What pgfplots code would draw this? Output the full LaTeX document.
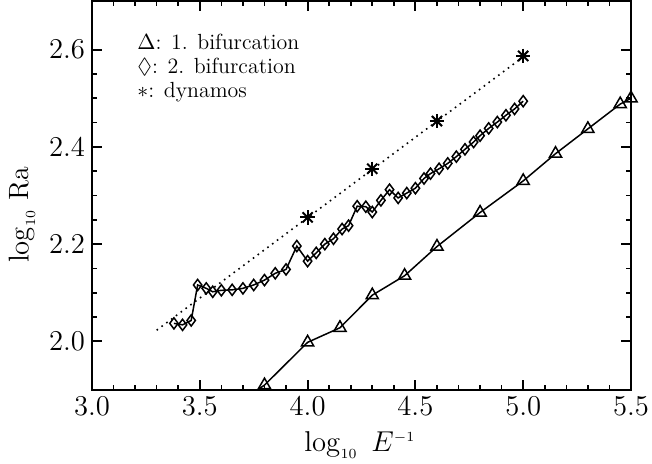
\documentclass[border=0pt]{standalone}
\usepackage{pgfplots}
\pgfplotsset{compat=1.18}
\usepackage{amssymb}
\begin{document}
\begin{tikzpicture}
\useasboundingbox (-46bp,-37bp) rectangle (280bp,195bp);
\begin{axis}[
  at={(0,0)}, anchor=south west,
  scale only axis, width=269.5bp, height=194.5bp,
  xmin=3, xmax=5.5, ymin=1.9, ymax=2.7,
  xtick={3.0,3.5,4.0,4.5,5.0,5.5}, ytick={2.0,2.2,2.4,2.6},
  minor x tick num=4, minor y tick num=3,
  tick align=inside, major tick length=5bp, minor tick length=2.6bp,
  major tick style={line width=1bp, black},
  minor tick style={line width=0.8bp, black},
  axis line style={line width=1.3bp},
  xticklabel style={/pgf/number format/.cd, fixed, fixed zerofill, precision=1},
  yticklabel style={/pgf/number format/.cd, fixed, fixed zerofill, precision=1},
  tick label style={font=\fontsize{14}{16}\selectfont},
  label style={font=\fontsize{14}{16}\selectfont},
  xlabel={$\log_{\scriptscriptstyle 10}\ E^{\scriptscriptstyle -1}$},
  ylabel={$\log_{\scriptscriptstyle 10}$ Ra},
  xlabel style={at={(axis description cs:0.497,-0.141)}, anchor=center},
  ylabel style={at={(axis description cs:-0.13,0.45)}, anchor=center},
]
% 1. bifurcation (triangles)
\addplot[black, line width=0.75bp, forget plot] coordinates {(3.6,1.85) (3.8,1.91)};
\addplot[black, line width=0.75bp, mark=triangle, mark size=3.5bp,
  mark options={solid, fill=white, line width=0.75bp}] coordinates {
(3.80,1.910) (4.00,1.998) (4.15,2.028) (4.30,2.095) (4.45,2.135)
(4.60,2.195) (4.80,2.265) (5.00,2.330) (5.15,2.386) (5.30,2.437)
(5.45,2.488) (5.50,2.500)
};
% fit line through dynamos
\addplot[black, line width=0.8bp, dash pattern=on 0.8bp off 2.2bp] coordinates {(3.30,2.023) (5.00,2.585)};
% 2. bifurcation (diamonds)
\addplot[black, line width=0.75bp, mark=diamond, mark size=2.8bp,
  mark options={solid, fill=white, line width=0.75bp}] coordinates {
(3.38,2.037) (3.42,2.034) (3.46,2.043) (3.49,2.116) (3.53,2.109)
(3.56,2.102) (3.60,2.105) (3.65,2.106) (3.70,2.109) (3.75,2.116)
(3.80,2.126) (3.85,2.140) (3.90,2.148) (3.95,2.196) (4.00,2.165)
(4.04,2.182) (4.08,2.200) (4.12,2.211) (4.16,2.231) (4.19,2.238)
(4.23,2.278) (4.27,2.277) (4.30,2.266) (4.34,2.290) (4.38,2.312)
(4.42,2.295) (4.46,2.305) (4.50,2.315) (4.54,2.335) (4.57,2.345)
(4.61,2.355) (4.65,2.366) (4.69,2.380) (4.73,2.395) (4.77,2.410)
(4.80,2.423) (4.84,2.438) (4.88,2.451) (4.92,2.465) (4.96,2.478)
(5.00,2.494)
};
% dynamos (asterisks)
\addplot[black, only marks, mark=+, mark size=3.6bp, mark options={line width=1bp}] coordinates {
(4.00,2.255) (4.30,2.355) (4.60,2.453) (5.00,2.587)
};
\addplot[black, only marks, mark=x, mark size=3.6bp, mark options={line width=1bp}] coordinates {
(4.00,2.255) (4.30,2.355) (4.60,2.453) (5.00,2.587)
};
\node[anchor=base west, font=\fontsize{11}{12}\selectfont, inner sep=0pt] at (axis cs:3.209,2.600) {\smash{$\Delta$}: 1. bifurcation};
\node[anchor=base west, font=\fontsize{11}{12}\selectfont, inner sep=0pt] at (axis cs:3.209,2.551) {\smash{$\Diamond$}: 2. bifurcation};
\node[anchor=base west, font=\fontsize{11}{12}\selectfont, inner sep=0pt] at (axis cs:3.209,2.502) {\smash{$\ast$}: dynamos};
\end{axis}
\end{tikzpicture}
\end{document}
